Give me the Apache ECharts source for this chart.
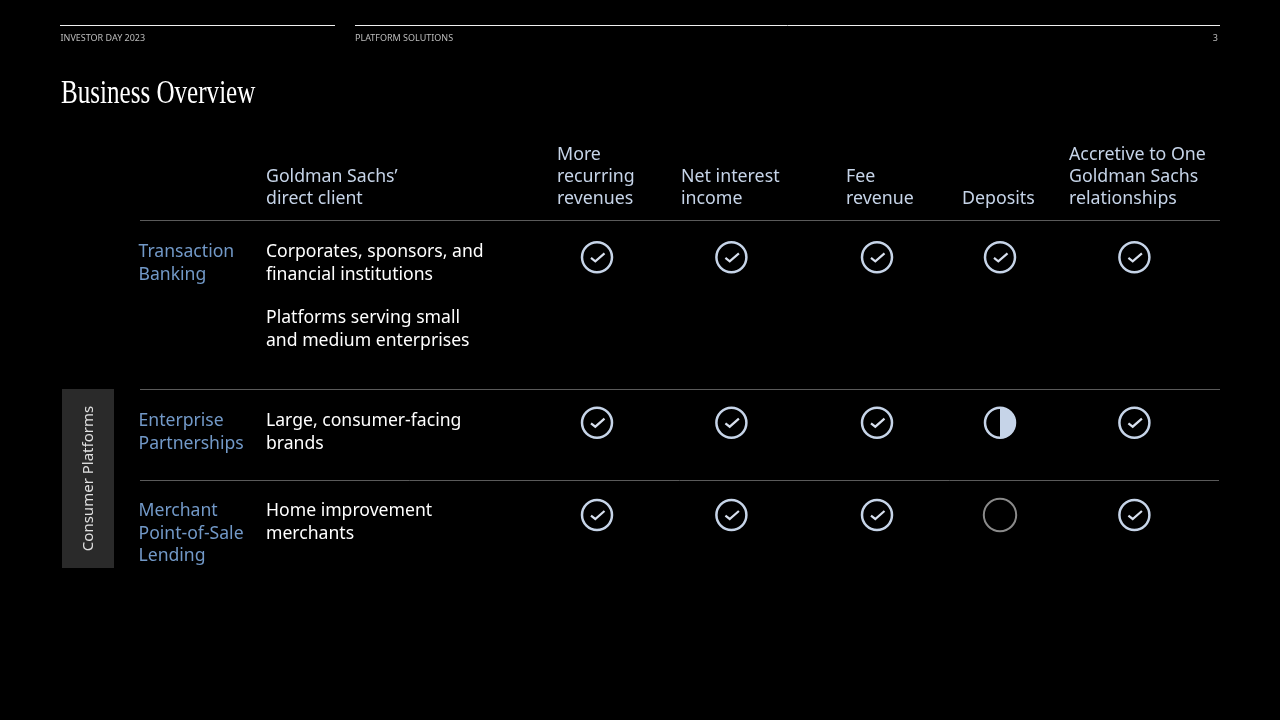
<!DOCTYPE html>
<html>
<head>
<meta charset="utf-8">
<title>Business Overview</title>
<style>
html,body{margin:0;padding:0;background:#000;}
#main{width:1280px;height:720px;}
</style>
<script src="https://cdn.jsdelivr.net/npm/echarts@6/dist/echarts.min.js"></script>
</head>
<body>
<div id="main"></div>
<script>
// 表头和行
var columns = ['More\nrecurring\nrevenues', 'Net interest\nincome', 'Fee\nrevenue', 'Deposits', 'Accretive to One\nGoldman Sachs\nrelationships'];
var rows = ['Transaction\nBanking', 'Enterprise\nPartnerships', 'Merchant\nPoint-of-Sale\nLending'];
var clients = ['Corporates, sponsors, and\nfinancial institutions', 'Large, consumer-facing\nbrands', 'Home improvement\nmerchants'];
var clientExtra = 'Platforms serving small\nand medium enterprises';
// 每行状态 2=full 1=half 0=none
var transactionBanking = [2, 2, 2, 2, 2];
var enterprisePartnerships = [2, 2, 2, 1, 2];
var merchantLending = [2, 2, 2, 0, 2];

var FONT = '"Noto Sans", sans-serif';
var HEAD = '#c6d4e8';
var BLUE = '#7299c8';
var LINE = '#5a5a5a';

var colNudge = [0, 0.4, 12, 1, 1.4]; // 列不等宽
var rowNudge = [-73, -0.3, -0.7];
var colLeft = [557, 681, 846, 962, 1069];
var rowTop = [241, 410, 500];

var cells = [];
[transactionBanking, enterprisePartnerships, merchantLending].map(function (line, r) {
	line.map(function (v, c) {
		cells.push([c, r, v]);
	});
});

function text(x, y, str, color, size, extra) {
	var style = {
		x: x, y: y, text: str, fill: color,
		font: (size || 17.6) + 'px ' + FONT,
		lineHeight: 22.5,
		verticalAlign: 'top'
	};
	for (var k in extra) style[k] = extra[k];
	return { type: 'text', silent: true, style: style };
}
function rule(x1, x2, y, color) {
	return { type: 'line', silent: true, shape: { x1: x1, y1: y, x2: x2, y2: y }, style: { stroke: color, lineWidth: 1 } };
}

var graphics = [
	rule(60, 335, 25.5, '#f0f0f0'),
	rule(355, 1220, 25.5, '#f0f0f0'),
	text(60.5, 33, 'INVESTOR DAY 2023', '#bdbdbd', 9, { lineHeight: 10 }),
	text(355, 33, 'PLATFORM SOLUTIONS', '#bdbdbd', 9, { lineHeight: 10 }),
	text(1218, 33, '3', '#bdbdbd', 9, { lineHeight: 10, align: 'right' }),
	{
		type: 'text', silent: true, x: 61, y: 77.5, scaleX: 0.76,
		style: { x: 0, y: 0, text: 'Business Overview', fill: '#fff', font: '33px "Liberation Serif", serif', verticalAlign: 'top' }
	},
	rule(140, 1220, 220.5, LINE),
	rule(140, 1220, 389.5, LINE),
	rule(140, 1219, 480.5, LINE),
	{ type: 'rect', silent: true, shape: { x: 62, y: 389, width: 52, height: 179 }, style: { fill: '#2a2a2a' } },
	{
		type: 'text', silent: true, x: 88.5, y: 478.5, rotation: Math.PI / 2,
		style: { x: 0, y: 0, text: 'Consumer Platforms', fill: '#e0e0e0', font: '15px ' + FONT, align: 'center', verticalAlign: 'middle' }
	},
	text(266, 165.5, 'Goldman Sachs’\ndirect client', HEAD, 17.7),
	text(266, 307, clientExtra, '#fff')
];
columns.map(function (name, i) {
	var n = name.split('\n').length;
	graphics.push(text(colLeft[i], 210 - n * 22, name, HEAD, 17.8, { lineHeight: 22 }));
});
rows.map(function (name, i) {
	graphics.push(text(138.5, rowTop[i], name, BLUE));
	graphics.push(text(266, rowTop[i], clients[i], '#fff'));
});

function renderMark(params, api) {
	var p = api.coord([api.value(0), api.value(1)]);
	var cx = p[0] + colNudge[api.value(0)];
	var cy = p[1] + rowNudge[api.value(1)];
	var v = api.value(2);
	var kids = [];
	if (v === 0) {
		kids.push({ type: 'circle', shape: { cx: cx, cy: cy, r: 16.2 }, style: { fill: 'none', stroke: '#8a8a8a', lineWidth: 2 } });
	} else {
		kids.push({ type: 'circle', shape: { cx: cx, cy: cy, r: 15 }, style: { fill: 'none', stroke: HEAD, lineWidth: 2.5 } });
	}
	if (v === 1) {
		kids.push({ type: 'sector', shape: { cx: cx, cy: cy, r: 15.5, r0: 0, startAngle: -Math.PI / 2, endAngle: Math.PI / 2 }, style: { fill: HEAD } });
	}
	if (v === 2) {
		kids.push({
			type: 'polyline',
			shape: { points: [[cx - 6, cy + 0.6], [cx - 1.7, cy + 4], [cx + 7.5, cy - 4]] },
			style: { fill: 'none', stroke: '#d8e0ee', lineWidth: 2.2 }
		});
	}
	return { type: 'group', children: kids };
}

var myChart = echarts.init(document.getElementById('main'));
var option = {
	backgroundColor: '#000',
	animation: false,
	grid: { left: 530, width: 670, top: 284, height: 278 },
	xAxis: { type: 'category', show: false, data: columns },
	yAxis: { type: 'category', show: false, inverse: true, data: rows },
	graphic: { elements: graphics },
	series: [{
		type: 'custom',
		renderItem: renderMark,
		encode: { x: 0, y: 1 },
		data: cells
	}]
};
myChart.setOption(option);
</script>
</body>
</html>
